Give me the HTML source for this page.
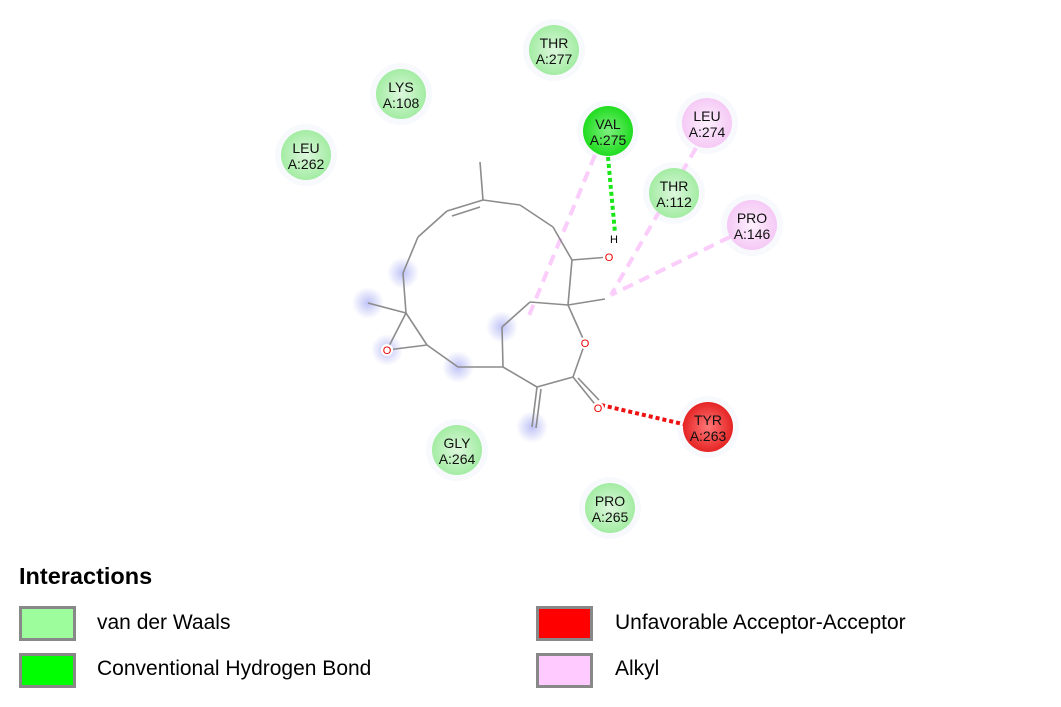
<!DOCTYPE html>
<html><head><meta charset="utf-8"><style>
body{margin:0;background:#fff;width:1061px;height:707px;overflow:hidden;font-family:"Liberation Sans","DejaVu Sans",sans-serif}
svg{position:absolute;left:0;top:0}
</style></head><body>
<svg id="chart" width="1061" height="707">
<defs>
<radialGradient id="halo"><stop offset="0" stop-color="#b8bcf5" stop-opacity="0.9"/><stop offset="1" stop-color="#b8bcf5" stop-opacity="0"/></radialGradient>
<radialGradient id="gVdw"><stop offset="0" stop-color="#ddf7dd"/><stop offset="1" stop-color="#a3eca3"/></radialGradient>
<radialGradient id="gHb"><stop offset="0" stop-color="#7ef07e"/><stop offset="1" stop-color="#1fdc1f"/></radialGradient>
<radialGradient id="gAlk"><stop offset="0" stop-color="#fdf0fd"/><stop offset="1" stop-color="#f5c9f5"/></radialGradient>
<radialGradient id="gRed"><stop offset="0" stop-color="#f77"/><stop offset="1" stop-color="#e52424"/></radialGradient>
</defs>
<g id="halos"></g>
<g id="lines"></g>
<g id="mol" stroke="#8c8c8c" stroke-width="1.6" fill="none"></g>
<g id="res"></g>
<g font-size="21">
<text x="19" y="584" font-weight="bold" font-size="23.5">Interactions</text>
<rect x="20.5" y="607.5" width="54" height="32" fill="#9dfd9d" stroke="#888" stroke-width="3"/>
<text x="97" y="629">van der Waals</text>
<rect x="20.5" y="654.5" width="54" height="32" fill="#00ff00" stroke="#888" stroke-width="3"/>
<text x="97" y="675">Conventional Hydrogen Bond</text>
<rect x="537.5" y="607.5" width="54" height="32" fill="#ff0000" stroke="#888" stroke-width="3"/>
<text x="615" y="629">Unfavorable Acceptor-Acceptor</text>
<rect x="537.5" y="654.5" width="54" height="32" fill="#ffcaff" stroke="#888" stroke-width="3"/>
<text x="615" y="675">Alkyl</text>
</g>
</svg>
<script>
const resNames=["THR","LYS","LEU","VAL","LEU","THR","PRO","TYR","GLY","PRO"];
const resNums=["A:277","A:108","A:262","A:275","A:274","A:112","A:146","A:263","A:264","A:265"];
const resTypes=["vdw","vdw","vdw","hb","alk","vdw","alk","red","vdw","vdw"];
const resX=[554,401,306,608,707,674,752,708,457,610];
const resY=[50,94,155,131,123,193,225,427,450,508];
const atomX=[480,483,520,553,572,609,568,605,585,573,598,537,532,503,502,530,458,427,406,368,387,403,418,447];
const atomY=[162,200,205,227,260,257,305,299,343,377,408,387,427,367,327,302,367,345,313,303,350,273,237,211];
const bonds=[[0,1],[1,2],[2,3],[3,4],[4,5],[4,6],[6,7],[6,8],[8,9],[9,10],[9,11],[11,12],[11,13],[13,14],[14,15],[15,6],[13,16],[16,17],[17,18],[18,19],[18,20],[20,17],[18,21],[21,22],[22,23],[23,1]];
const haloAtoms=[21,19,20,16,14,12];
const ns="http://www.w3.org/2000/svg";
function mk(t,a,p){const e=document.createElementNS(ns,t);for(const k in a)e.setAttribute(k,a[k]);p.appendChild(e);return e;}
const H=document.getElementById('halos'),L=document.getElementById('lines'),M=document.getElementById('mol'),R=document.getElementById('res');
haloAtoms.forEach(i=>{const c=mk('circle',{cx:atomX[i],cy:atomY[i],r:16,fill:'url(#halo)'},H);

});
resX.forEach((x,i)=>{const c=mk('circle',{cx:x,cy:resY[i],r:31,fill:'#f1f5fb',opacity:0.6},H);

});
const links=[[3,14,'alk'],[4,7,'alk'],[6,7,'alk'],[3,5,'hb'],[7,10,'red']];
links.forEach(([r,a,s])=>{let x2=atomX[a],y2=atomY[a],x1=resX[r],y1=resY[r];
let st={alk:['#fbcdfb',4,'11,7'],hb:['#19e619',4,'4,3'],red:['#ee1111',4,'4,3']}[s];
if(s==='alk'&&r===3){x1=595;y1=155;x2=528;y2=318;}
if(s==='alk'&&r===4){x1=696;y1=148;x2=611;y2=295;}
if(s==='alk'&&r===6){x1=730;y1=237;x2=611;y2=295;}
if(s==='hb'){x1=608;y1=157;x2=615;y2=233;}
if(s==='red'){x1=601;y1=405;x2=700;y2=428;}
const l=mk('line',{x1,y1,x2,y2,stroke:st[0],'stroke-width':st[1],'stroke-dasharray':st[2]},L);

});
const oAtoms=[5,8,10,20];
bonds.forEach(([a,b])=>{const l=mk('line',{x1:atomX[a],y1:atomY[a],x2:atomX[b],y2:atomY[b]},M);

});
mk('line',{x1:452,y1:216,x2:480,y2:207},M);
mk('line',{x1:578,y1:378,x2:599,y2:400},M);
mk('line',{x1:541,y1:389,x2:536,y2:428},M);
oAtoms.forEach(i=>{mk('circle',{cx:atomX[i],cy:atomY[i],r:6,fill:'#fff',stroke:'none'},M);
const t=mk('text',{x:atomX[i],y:atomY[i]+4,'text-anchor':'middle','font-size':11,fill:'#e00',stroke:'none'},M);t.textContent='O';

});
const h=mk('text',{x:614,y:243,'text-anchor':'middle','font-size':11,fill:'#000',stroke:'none'},M);h.textContent='H';
const fills={vdw:'url(#gVdw)',hb:'url(#gHb)',alk:'url(#gAlk)',red:'url(#gRed)'};
resX.forEach((x,i)=>{const g=mk('g',{},R);


mk('circle',{cx:x,cy:resY[i],r:25,fill:fills[resTypes[i]]},g);
const t1=mk('text',{x:x,y:resY[i]-2,'text-anchor':'middle','font-size':14,fill:'#111'},g);t1.textContent=resNames[i];
const t2=mk('text',{x:x,y:resY[i]+14,'text-anchor':'middle','font-size':14,fill:'#111'},g);t2.textContent=resNums[i];});
</script>
</body></html>
